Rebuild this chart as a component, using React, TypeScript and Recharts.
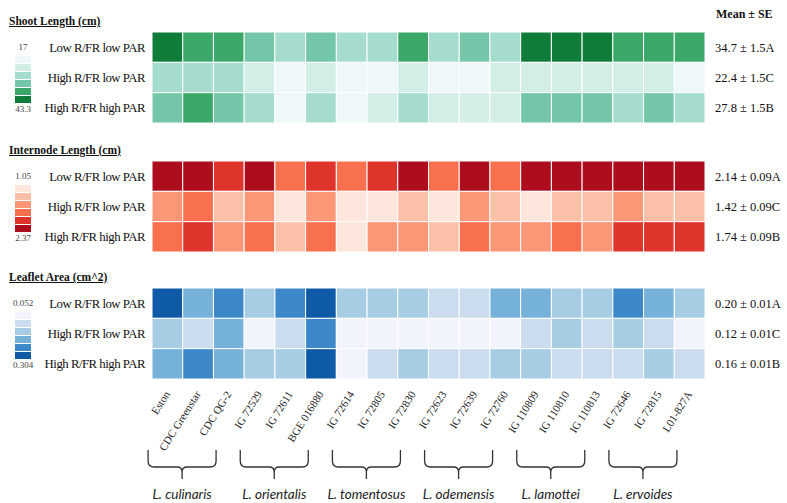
import React from "react";
import { ScatterChart, Scatter, XAxis, YAxis } from "recharts";

const accessions = [
  "Eston", "CDC Greenstar", "CDC QG-2", "IG 72529", "IG 72611", "BGE 016880",
  "IG 72614", "IG 72805", "IG 72830", "IG 72623", "IG 72639", "IG 72760",
  "IG 110809", "IG 110810", "IG 110813", "IG 72646", "IG 72815", "L01-827A",
];
const treatments = ["Low R/FR low PAR", "High R/FR low PAR", "High R/FR high PAR"];
const species = ["L. culinaris", "L. orientalis", "L. tomentosus", "L. odemensis", "L. lamottei", "L. ervoides"];

// shoot length (cm)
const shootLowLow = [43.3, 37.2, 36.5, 32.1, 28.4, 31.8, 27.6, 28.9, 36.9, 27.9, 31.2, 29.1, 41.8, 42.5, 41.2, 36.4, 37.0, 35.8];
const shootHighLow = [27.3, 26.8, 27.9, 23.1, 18.2, 22.6, 17.0, 19.4, 22.9, 19.8, 18.7, 23.4, 24.1, 22.8, 23.6, 22.4, 23.0, 20.1];
const shootHighHigh = [31.6, 35.4, 32.3, 27.1, 19.5, 28.3, 20.6, 22.9, 27.8, 23.5, 24.2, 23.0, 32.7, 31.9, 33.1, 27.4, 32.2, 28.0];
const shootMeans = ["34.7 ± 1.5A", "22.4 ± 1.5C", "27.8 ± 1.5B"];

// internode length (cm)
const intLowLow = [2.31, 2.24, 2.05, 2.37, 1.84, 2.08, 1.79, 2.01, 2.28, 1.86, 2.22, 1.81, 2.33, 2.26, 2.30, 2.19, 2.27, 2.24];
const intHighLow = [1.58, 1.77, 1.36, 1.62, 1.18, 1.55, 1.05, 1.21, 1.41, 1.15, 1.63, 1.39, 1.19, 1.44, 1.40, 1.57, 1.35, 1.42];
const intHighHigh = [1.80, 2.03, 1.62, 1.85, 1.39, 1.78, 1.22, 1.59, 1.64, 1.43, 1.83, 1.56, 1.61, 1.79, 1.58, 2.09, 2.01, 2.06];
const intMeans = ["2.14 ± 0.09A", "1.42 ± 0.09C", "1.74 ± 0.09B"];

// leaflet area (cm^2)
const leafLowLow = [0.288, 0.196, 0.244, 0.158, 0.238, 0.304, 0.152, 0.161, 0.149, 0.121, 0.117, 0.192, 0.203, 0.155, 0.163, 0.247, 0.201, 0.156];
const leafHighLow = [0.151, 0.118, 0.186, 0.074, 0.109, 0.235, 0.061, 0.052, 0.069, 0.078, 0.066, 0.081, 0.113, 0.148, 0.124, 0.154, 0.107, 0.083];
const leafHighHigh = [0.194, 0.229, 0.188, 0.147, 0.152, 0.279, 0.072, 0.119, 0.146, 0.112, 0.125, 0.142, 0.159, 0.121, 0.116, 0.127, 0.161, 0.114];
const leafMeans = ["0.20 ± 0.01A", "0.12 ± 0.01C", "0.16 ± 0.01B"];

const greens = ["#eef8f9", "#d3eee7", "#a6dccd", "#74c6a9", "#3ba86a", "#107c3a"];
const reds = ["#fde6dc", "#fbc0a8", "#fb9677", "#f9704f", "#df342b", "#ad0d1d"];
const blues = ["#f1f4fd", "#cadcee", "#a6cde3", "#76b1d9", "#3d88c8", "#0f5aa7"];

const SERIF = "'Liberation Serif', 'Times New Roman', serif";
const PLOT_L = 152;
const PLOT_R = 705;
const PLOT_H = 91;
const CW = (PLOT_R - PLOT_L) / accessions.length;
const CH = PLOT_H / treatments.length;

const colorOf = (v: number, min: number, max: number, pal: string[]) => {
  const i = Math.floor(((v - min) / (max - min)) * pal.length);
  return pal[Math.max(0, Math.min(pal.length - 1, i))];
};

type PanelProps = {
  title: string;
  top: number;
  rows: number[][];
  means: string[];
  min: string;
  max: string;
  pal: string[];
  showX?: boolean;
};

function Panel({ title, top, rows, means, min, max, pal, showX }: PanelProps) {
  const lo = parseFloat(min);
  const hi = parseFloat(max);
  const data = rows.flatMap((r, yi) => r.map((v, xi) => ({ x: xi, y: yi, v })));
  const xH = showX ? 90 : 0;
  return (
    <>
      <div style={{ position: "absolute", left: 9, top: top - 17, fontFamily: SERIF, fontWeight: "bold", fontSize: 11.5, textDecoration: "underline", color: "#111" }}>
        {title}
      </div>
      <div style={{ position: "absolute", left: 10, top: top + 10, width: 26, textAlign: "center", fontFamily: SERIF, fontSize: 9, color: "#444" }}>{min}</div>
      <div style={{ position: "absolute", left: 15, top: top + 24, width: 16 }}>
        {pal.map((c) => (
          <div key={c} style={{ height: 7, background: c, marginBottom: 1 }} />
        ))}
      </div>
      <div style={{ position: "absolute", left: 10, top: top + 72, width: 26, textAlign: "center", fontFamily: SERIF, fontSize: 9, color: "#444" }}>{max}</div>
      <div style={{ position: "absolute", left: 0, top: top - 1 }}>
        <ScatterChart width={787} height={PLOT_H + 2 + xH} margin={{ top: 1, right: 0, bottom: 1, left: 0 }}>
          <XAxis
            type="number"
            dataKey="x"
            domain={[-0.5, accessions.length - 0.5]}
            ticks={accessions.map((_, i) => i)}
            hide={!showX}
            height={xH || 1}
            axisLine={false}
            tickLine={false}
            interval={0}
            tick={({ x, y, payload }: any) => (
              <text
                x={x + 3}
                y={y + 7}
                transform={`rotate(-58 ${x + 3} ${y + 7})`}
                textAnchor="end"
                fontFamily={SERIF}
                fontSize={11}
                fill="#222"
              >
                {accessions[payload.value]}
              </text>
            )}
          />
          <YAxis
            yAxisId="l"
            type="number"
            dataKey="y"
            domain={[-0.5, 2.5]}
            reversed
            ticks={[0, 1, 2]}
            width={PLOT_L}
            axisLine={false}
            tickLine={false}
            tick={({ x, y, payload }: any) => (
              <text x={x + 1} y={y + 4.5} textAnchor="end" fontFamily={SERIF} fontSize={12.8} letterSpacing={-0.5} fill="#111">
                {treatments[payload.value]}
              </text>
            )}
          />
          <YAxis
            yAxisId="r"
            orientation="right"
            type="number"
            dataKey="y"
            domain={[-0.5, 2.5]}
            reversed
            ticks={[0, 1, 2]}
            width={787 - PLOT_R}
            axisLine={false}
            tickLine={false}
            tick={({ x, y, payload }: any) => (
              <text x={x + 2} y={y + 4.5} textAnchor="start" fontFamily={SERIF} fontSize={12.5} fill="#111">
                {means[payload.value]}
              </text>
            )}
          />
          <Scatter
            yAxisId="l"
            data={data}
            isAnimationActive={false}
            shape={(p: any) => (
              <rect
                x={p.cx - CW / 2}
                y={p.cy - CH / 2}
                width={CW}
                height={CH}
                fill={colorOf(p.payload.v, lo, hi, pal)}
                stroke="#fff"
                strokeWidth={1}
              />
            )}
          />
          <Scatter yAxisId="r" data={data} isAnimationActive={false} shape={() => <g />} />
        </ScatterChart>
      </div>
    </>
  );
}

function Braces() {
  const yTop = 450;
  const yMid = 467;
  const yBot = 479;
  return (
    <svg width={787} height={503} style={{ position: "absolute", left: 0, top: 0, pointerEvents: "none" }}>
      {species.map((s, g) => {
        const c = PLOT_L + (g * 3 + 1.5) * CW - 16;
        const L = c - 34;
        const R = c + 34;
        const d = `M${L} ${yTop} L${L} ${yMid - 6} Q${L} ${yMid} ${L + 6} ${yMid} L${c - 5} ${yMid} Q${c} ${yMid} ${c} ${yMid + 5} L${c} ${yBot}
          M${c} ${yMid + 5} Q${c} ${yMid} ${c + 5} ${yMid} L${R - 6} ${yMid} Q${R} ${yMid} ${R} ${yMid - 6} L${R} ${yTop}`;
        return (
          <g key={s}>
            <path d={d} fill="none" stroke="#333" strokeWidth={1.3} />
            <text x={c} y={499} textAnchor="middle" fontFamily="Lato, 'Open Sans', sans-serif" fontStyle="italic" fontSize={13.5} fill="#222">
              {s}
            </text>
          </g>
        );
      })}
    </svg>
  );
}

export default function App() {
  return (
    <div style={{ position: "absolute", left: 0, top: 0, width: 787, height: 503, background: "#fff", overflow: "hidden" }}>
      <div style={{ position: "absolute", left: 716, top: 7, fontFamily: SERIF, fontWeight: "bold", fontSize: 12, color: "#111" }}>Mean ± SE</div>
      <Panel title="Shoot Length (cm)" top={32} rows={[shootLowLow, shootHighLow, shootHighHigh]} means={shootMeans} min="17" max="43.3" pal={greens} />
      <Panel title="Internode Length (cm)" top={160.5} rows={[intLowLow, intHighLow, intHighHigh]} means={intMeans} min="1.05" max="2.37" pal={reds} />
      <Panel title="Leaflet Area (cm^2)" top={288} rows={[leafLowLow, leafHighLow, leafHighHigh]} means={leafMeans} min="0.052" max="0.304" pal={blues} showX />
      <Braces />
    </div>
  );
}
